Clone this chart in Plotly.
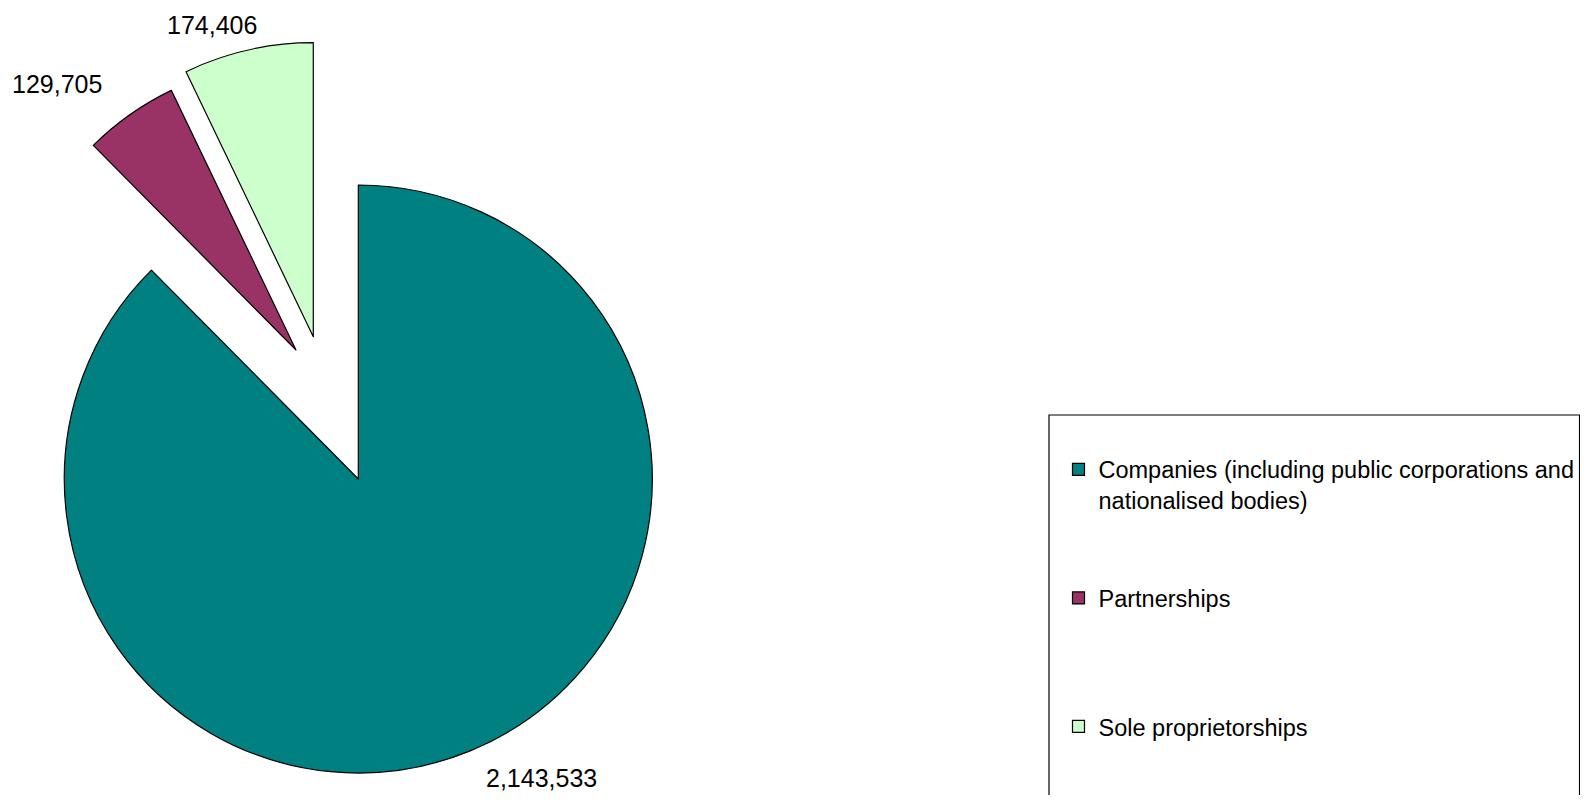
import plotly.graph_objects as go

# ---- data ----
categories = ["Companies (including public corporations and nationalised bodies)",
              "Partnerships", "Sole proprietorships"]
legend_names = ["Companies (including public corporations and<br>nationalised bodies)",
                "Partnerships<br> ", "Sole proprietorships"]
values = [2143533, 129705, 174406]
colors = ["#008080", "#993366", "#CCFFCC"]

# ---- layout helpers: screen pixels -> paper fractions ----
# the page body has an 8px margin, so the plot area is 1572x787 starting at (8, 8)
W, H, OX, OY = 1572, 787, 8, 8
FONT = "Arial, 'Liberation Sans', sans-serif"


def px(X):
    return (X - OX) / W


def py(Y):
    return 1 - (Y - OY) / H


def dom(cx, cy, r):
    return dict(x=[max(0, px(cx - r)), px(cx + r)], y=[py(cy + r), py(cy - r)])


# exploded slice centres / radius in screen pixels
slice_geom = [(358.3, 479, 294), (296, 350, 288), (313.3, 336.7, 294)]
label_pos = [(541, 778), (57, 83.5), (212, 25)]

fig = go.Figure()
for i in range(3):
    cx, cy, r = slice_geom[i]
    fig.add_trace(go.Pie(
        labels=categories, values=values, sort=False, direction="clockwise", rotation=0,
        marker=dict(colors=[colors[j] if j == i else "rgba(0,0,0,0)" for j in range(3)],
                    line=dict(color="black", width=[1.2 if j == i else 0 for j in range(3)])),
        textinfo="none", hoverinfo="label+value", showlegend=False, domain=dom(cx, cy, r)))

# legend entries
for i in range(3):
    fig.add_trace(go.Pie(
        labels=[legend_names[i]], values=[values[i]], sort=False,
        marker=dict(colors=[colors[i]], line=dict(color="black", width=1.2)),
        textinfo="none", hoverinfo="skip", legendgroup=f"g{i}", showlegend=True,
        domain=dict(x=[0.99, 0.995], y=[0.01, 0.015])))

for i in range(3):
    x, y = label_pos[i]
    fig.add_annotation(x=px(x), y=py(y), xref="paper", yref="paper",
                       text=f"{values[i]:,}", showarrow=False,
                       xanchor="center", yanchor="middle", borderpad=0,
                       font=dict(family=FONT, size=25, color="black"))

# legend frame (bottom runs off the page): open path, white fill
bx0, bx1, by0, by1 = px(1049), min(0.9997, px(1584)), 0.0, py(415)
fig.add_shape(type="path", xref="paper", yref="paper",
              path=f"M {bx0},{by0} L {bx0},{by1} L {bx1},{by1} L {bx1},{by0}",
              line=dict(color="black", width=1.2), fillcolor="white", layer="above")

fig.update_layout(
    margin=dict(l=0, r=0, t=0, b=0),
    paper_bgcolor="white", plot_bgcolor="white",
    font=dict(family=FONT, size=24, color="black"),
    legend=dict(x=px(1058.5), xanchor="left", y=py(447.5), yanchor="top",
                traceorder="grouped", tracegroupgap=64.5, valign="top",
                bgcolor="rgba(0,0,0,0)", borderwidth=0,
                font=dict(family=FONT, size=23.5, color="black")),
    showlegend=True,
)

fig.write_html("out.html")
